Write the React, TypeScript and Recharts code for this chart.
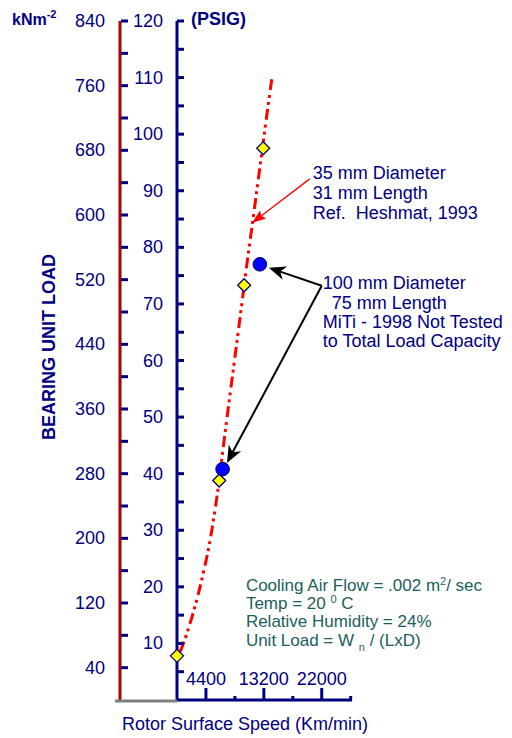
import React from "react";
import {
  ComposedChart,
  Line,
  Scatter,
  XAxis,
  YAxis,
  ReferenceLine,
  ReferenceDot,
  Customized,
} from "recharts";

const NAVY = "#000080";
const TEAL = "#1b5e5e";
const FONT = "Arial, 'Liberation Sans', Helvetica, sans-serif";

// Heshmat 1993, 35 mm bearing (yellow diamonds)
const heshmatSpeed = [0, 6420, 10210, 13100];
const heshmatPsi = [7.8, 38.8, 73.3, 97.5];

// MiTi 1998, 100 mm bearing (blue dots)
const mitiSpeed = [6930, 12590];
const mitiPsi = [40.8, 77.0];

// red dash-dot trend through the Heshmat points
const trendSpeed = [455, 880, 1670, 2580, 3380, 4100, 4900, 5720, 6420, 6980, 7690, 8150, 8880, 9730, 10210, 10710, 11470, 12080, 12990, 13760, 14420];
const trendPsi = [8.5, 9.7, 12.4, 15.9, 19.4, 23.0, 27.4, 33.2, 38.9, 44.2, 50.7, 54.8, 61.3, 68.9, 73.3, 77.8, 84.3, 89.6, 97.6, 104.3, 109.9];

// axis ticks
const speedTicks = [4400, 8800, 13200, 17600, 22000, 26400];
const speedLabels = [4400, 13200, 22000];
const psiTicks = [5, 10, 15, 20, 25, 30, 35, 40, 45, 50, 55, 60, 65, 70, 75, 80, 85, 90, 95, 100, 105, 110, 115, 120];
const psiLabels = [10, 20, 30, 40, 50, 60, 70, 80, 90, 100, 110, 120];
const knTicks = [0, 40, 80, 120, 160, 200, 240, 280, 320, 360, 400, 440, 480, 520, 560, 600, 640, 680, 720, 760, 800, 840];
const knLabels = [40, 120, 200, 280, 360, 440, 520, 600, 680, 760, 840];

const heshmat = heshmatSpeed.map((s, i) => ({ speed: s, psi: heshmatPsi[i] }));
const miti = mitiSpeed.map((s, i) => ({ speed: s, psi: mitiPsi[i] }));
const trend = trendSpeed.map((s, i) => ({ speed: s, psi: trendPsi[i] }));

const SpeedTick = ({ x, y, payload }: any) => {
  const major = speedLabels.includes(payload.value);
  return (
    <g>
      <line x1={x} x2={x} y1={y} y2={y - (major ? 12 : 4)} stroke={NAVY} strokeWidth={3} />
      {major && (
        <text x={x} y={y - 15} textAnchor="middle" fill={NAVY} fontSize={18} fontFamily={FONT}>
          {payload.value}
        </text>
      )}
    </g>
  );
};

const PsiTick = ({ x, y, payload }: any) => (
  <g>
    <line x1={x} x2={x + 7} y1={y} y2={y} stroke={NAVY} strokeWidth={3} />
    {psiLabels.includes(payload.value) && (
      <text x={x - 14} y={y + 6} textAnchor="end" fill={NAVY} fontSize={18} fontFamily={FONT}>
        {payload.value}
      </text>
    )}
  </g>
);

const KnTick = ({ x, y, payload }: any) => {
  if (payload.value === 0) {
    // grey base line between the two load axes
    return <line x1={x - 5} x2={x + 57} y1={y + 1} y2={y + 1} stroke="#808080" strokeWidth={3} />;
  }
  return (
    <g>
      <line x1={x + 1} x2={x + 8} y1={y} y2={y} stroke={NAVY} strokeWidth={3} />
      {knLabels.includes(payload.value) && (
        <text x={x - 15} y={y + 6} textAnchor="end" fill={NAVY} fontSize={18} fontFamily={FONT}>
          {payload.value}
        </text>
      )}
    </g>
  );
};

const Diamond = ({ cx, cy }: any) => (
  <polygon
    points={`${cx},${cy - 6.5} ${cx + 6.5},${cy} ${cx},${cy + 6.5} ${cx - 6.5},${cy}`}
    fill="#ffff00"
    stroke={NAVY}
    strokeWidth={1.3}
  />
);

const Dot = ({ cx, cy }: any) => (
  <circle cx={cx} cy={cy} r={6.8} fill="#0000ff" stroke="#000060" strokeWidth={1} />
);

const arrow = (color: string, width: number, len: number, half: number, notch: number) => (p: any) => {
  const { x1, y1, x2, y2 } = p;
  const a = Math.atan2(y2 - y1, x2 - x1);
  const ux = Math.cos(a);
  const uy = Math.sin(a);
  const bx = x2 - ux * len;
  const by = y2 - uy * len;
  const nx = x2 - ux * (len - notch);
  const ny = y2 - uy * (len - notch);
  const pts = [
    [x2, y2],
    [bx - uy * half, by + ux * half],
    [nx, ny],
    [bx + uy * half, by - ux * half],
  ]
    .map((q) => q.join(","))
    .join(" ");
  return (
    <g>
      <line x1={x1} y1={y1} x2={nx} y2={ny} stroke={color} strokeWidth={width} />
      <polygon points={pts} fill={color} />
    </g>
  );
};

const TextBlock = (lines: React.ReactNode[][], color: string, size: number, step: number) => (p: any) => (
  <text fill={color} fontSize={size} fontFamily={FONT}>
    {lines.map((l, i) => (
      <tspan key={i} x={p.cx + (l[1] as number)} y={p.cy + i * step}>
        {l[0]}
      </tspan>
    ))}
  </text>
);

const heshmatNote = TextBlock(
  [["35 mm Diameter", 0], ["31 mm Length", 0], ["Ref.\u00a0 Heshmat, 1993", 0]],
  NAVY,
  18,
  20
);

const mitiNote = TextBlock(
  [["100 mm Diameter", 0], ["75 mm Length", 9], ["MiTi - 1998 Not Tested", 0], ["to Total Load Capacity", 0]],
  NAVY,
  18,
  19.3
);

const conditions = TextBlock(
  [
    [<>Cooling Air Flow = .002 m<tspan dy={-6} fontSize={11}>2</tspan><tspan dy={6}>/ sec</tspan></>, 0],
    [<>Temp = 20 <tspan dy={-6} fontSize={11}>0</tspan><tspan dy={6}> C</tspan></>, 0],
    ["Relative Humidity = 24%", 0],
    [<>Unit Load = W <tspan dy={5} fontSize={11}>n</tspan><tspan dy={-5}> / (LxD)</tspan></>, 0],
  ],
  TEAL,
  17,
  18.3
);

const Titles = () => (
  <g fontFamily={FONT} fill={NAVY}>
    <text x={12} y={25} fontSize={16} fontWeight="bold">
      kNm<tspan dy={-7} fontSize={11}>-2</tspan>
    </text>
    <text x={191} y={25} fontSize={18} fontWeight="bold">
      (PSIG)
    </text>
    <text transform="translate(55,347) rotate(-90)" textAnchor="middle" fontSize={18} fontWeight="bold">
      BEARING UNIT LOAD
    </text>
    <text x={122} y={730} fontSize={18}>
      Rotor Surface Speed (Km/min)
    </text>
  </g>
);

export default function App() {
  return (
    <div style={{ position: "absolute", left: 0, top: 0, width: 512, height: 738, background: "#fff" }}>
      <ComposedChart width={512} height={738} margin={{ top: 21, right: 160, bottom: 0, left: 0 }}>
        <XAxis
          type="number"
          dataKey="speed"
          domain={[0, 26600]}
          ticks={speedTicks}
          interval={0}
          height={38}
          tickSize={0}
          tickMargin={0}
          tickLine={false}
          tick={SpeedTick}
          axisLine={{ stroke: NAVY, strokeWidth: 3 }}
        />
        <YAxis
          yAxisId="psi"
          type="number"
          dataKey="psi"
          domain={[0, 120]}
          ticks={psiTicks}
          interval={0}
          width={57}
          tickSize={0}
          tickMargin={0}
          tickLine={false}
          tick={PsiTick}
          axisLine={{ stroke: NAVY, strokeWidth: 3 }}
        />
        <YAxis
          yAxisId="zkn"
          type="number"
          domain={[0, 840]}
          ticks={knTicks}
          interval={0}
          allowDataOverflow
          width={120}
          tickSize={0}
          tickMargin={0}
          tickLine={false}
          tick={KnTick}
          axisLine={{ stroke: "#aa0000", strokeWidth: 3 }}
        />
        <Line
          data={trend}
          yAxisId="psi"
          dataKey="psi"
          type="monotone"
          stroke="#ff0000"
          strokeWidth={3}
          strokeDasharray="11 4 3 4 3 5"
          dot={false}
          isAnimationActive={false}
        />
        <ReferenceLine
          yAxisId="psi"
          segment={[{ x: 20180, y: 92.1 }, { x: 11380, y: 84.3 }]}
          ifOverflow="visible"
          shape={arrow("#ff0000", 1.3, 14, 5, 2)}
        />
        <ReferenceLine
          yAxisId="psi"
          segment={[{ x: 22000, y: 73.2 }, { x: 13960, y: 76.4 }]}
          ifOverflow="visible"
          shape={arrow("#000000", 2, 17, 7, 5)}
        />
        <ReferenceLine
          yAxisId="psi"
          segment={[{ x: 22000, y: 73.2 }, { x: 7590, y: 41.9 }]}
          ifOverflow="visible"
          shape={arrow("#000000", 2, 17, 7, 5)}
        />
        <Scatter data={heshmat} yAxisId="psi" dataKey="psi" shape={Diamond} isAnimationActive={false} />
        <Scatter data={miti} yAxisId="psi" dataKey="psi" shape={Dot} isAnimationActive={false} />
        <ReferenceDot yAxisId="psi" x={20640} y={92.1} r={0} ifOverflow="visible" shape={heshmatNote} />
        <ReferenceDot yAxisId="psi" x={22150} y={72.6} r={0} ifOverflow="visible" shape={mitiNote} />
        <ReferenceDot yAxisId="psi" x={10470} y={19.3} r={0} ifOverflow="visible" shape={conditions} />
        <Customized component={Titles} />
      </ComposedChart>
    </div>
  );
}
